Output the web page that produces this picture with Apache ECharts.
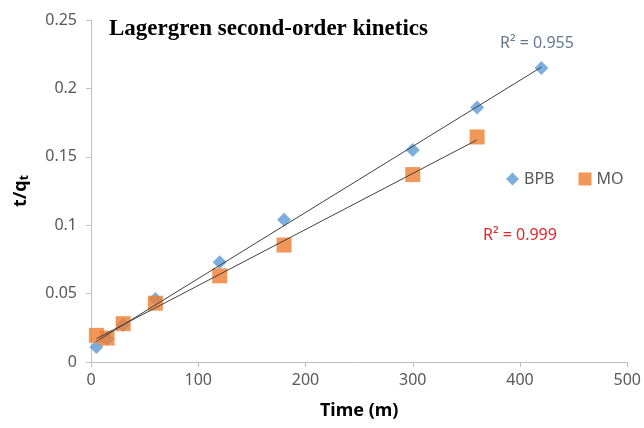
<html>
<head>
<meta charset="utf-8" />
<script src="https://cdn.jsdelivr.net/npm/echarts@6/dist/echarts.min.js"></script>
<style type="text/css">
	html, body, #main {
	width: 100%;
	height: 100%;
	margin: 0;
	background: #fff;
}
</style>
</head>
<body>
	<div id="main"></div>
	<script>
		var chart = echarts.init(document.getElementById('main'));

		// time (min) and t/qt
		var bpbTime = [5, 15, 30, 60, 120, 180, 300, 360, 420];
		var bpbVal = [0.011, 0.017, 0.027, 0.046, 0.073, 0.104, 0.155, 0.186, 0.215];
		var moTime = [5, 15, 30, 60, 120, 180, 300, 360];
		var moVal = [0.0195, 0.0175, 0.028, 0.043, 0.063, 0.0855, 0.137, 0.1645];
		var xTicks = [0, 100, 200, 300, 400, 500];
		var yTicks = [0, 0.05, 0.1, 0.15, 0.2, 0.25];

		function pairs(xs, ys) {
			var out = [];
			for (var i = 0; i < xs.length; i++) out.push([xs[i], ys[i]]);
			return out;
		}

		// least squares trendline, drawn from first to last x
		function trend(xs, ys) {
			var n = xs.length, sx = 0, sy = 0, sxy = 0, sxx = 0;
			for (var i = 0; i < n; i++) {
				sx += xs[i]; sy += ys[i]; sxy += xs[i] * ys[i]; sxx += xs[i] * xs[i];
			}
			var b = (n * sxy - sx * sy) / (n * sxx - sx * sx);
			var a = (sy - b * sx) / n;
			var x0 = xs[0], x1 = xs[n - 1];
			return [[x0, a + b * x0], [x1, a + b * x1]];
		}

		var labelFont = 'Noto Sans';

		var option = {
			animation: false,
			title: {
				text: 'Lagergren second-order kinetics',
				left: 104,
				top: 13,
				textStyle: {
					fontFamily: 'Liberation Serif',
					fontWeight: 'bold',
					fontSize: 23,
					color: '#000'
				}
			},
			legend: {
				data: [
					{ name: 'BPB', icon: 'diamond' },
					{ name: 'MO', icon: 'rect' }
				],
				left: 501,
				top: 166,
				itemWidth: 13,
				itemHeight: 13,
				itemGap: 24,
				textStyle: { fontFamily: labelFont, fontSize: 16, color: '#595959' }
			},
			grid: { left: 91, right: 15, top: 20, bottom: 66, containLabel: false },
			xAxis: {
				type: 'value',
				min: 0, max: 500, interval: 100,
				name: 'Time (m)',
				nameLocation: 'middle',
				nameGap: 40,
				nameTextStyle: { fontFamily: labelFont, fontWeight: 'bold', fontSize: 18, color: '#000' },
				axisLine: { lineStyle: { color: '#bfbfbf' } },
				axisTick: { show: true, length: 5, lineStyle: { color: '#bfbfbf' } },
				axisLabel: { margin: 10, fontFamily: labelFont, fontSize: 16, color: '#595959' },
				splitLine: { show: false }
			},
			yAxis: {
				type: 'value',
				min: 0, max: 0.25, interval: 0.05,
				name: '{a|t/q}{s|t}',
				nameLocation: 'middle',
				nameGap: 60,
				nameTextStyle: {
					rich: {
						a: { fontFamily: labelFont, fontWeight: 'bold', fontSize: 18, color: '#000' },
						s: { fontFamily: labelFont, fontWeight: 'bold', fontSize: 12, color: '#000', verticalAlign: 'bottom', padding: [8, 0, 0, 0] }
					}
				},
				axisLine: { show: true, lineStyle: { color: '#bfbfbf' } },
				axisTick: { show: true, length: 5, lineStyle: { color: '#bfbfbf' } },
				axisLabel: { margin: 14, fontFamily: labelFont, fontSize: 16, color: '#595959' },
				splitLine: { show: false }
			},
			graphic: [
				{ type: 'text', left: 500, top: 35, style: { text: 'R² = 0.955', fill: '#66788f', font: '16px "Noto Sans"' } },
				{ type: 'text', left: 483, top: 227, style: { text: 'R² = 0.999', fill: '#e3262b', font: '16px "Noto Sans"' } }
			],
			series: [
				{
					name: 'BPB trend', type: 'line', data: trend(bpbTime, bpbVal),
					showSymbol: false, silent: true, z: 3,
					lineStyle: { color: '#404040', width: 1 }
				},
				{
					name: 'MO trend', type: 'line', data: trend(moTime, moVal),
					showSymbol: false, silent: true, z: 3,
					lineStyle: { color: '#404040', width: 1 }
				},
				{
					name: 'BPB', type: 'scatter', data: pairs(bpbTime, bpbVal),
					symbol: 'diamond', symbolSize: 14, z: 2,
					itemStyle: { color: '#5b9bd5' }
				},
				{
					name: 'MO', type: 'scatter', data: pairs(moTime, moVal),
					symbol: 'rect', symbolSize: 15, z: 2,
					itemStyle: { color: '#ed7d31' }
				}
			]
		};

		chart.setOption(option);

		window.onresize = function() {
			chart.resize();
		}
	</script>
</body>
</html>
